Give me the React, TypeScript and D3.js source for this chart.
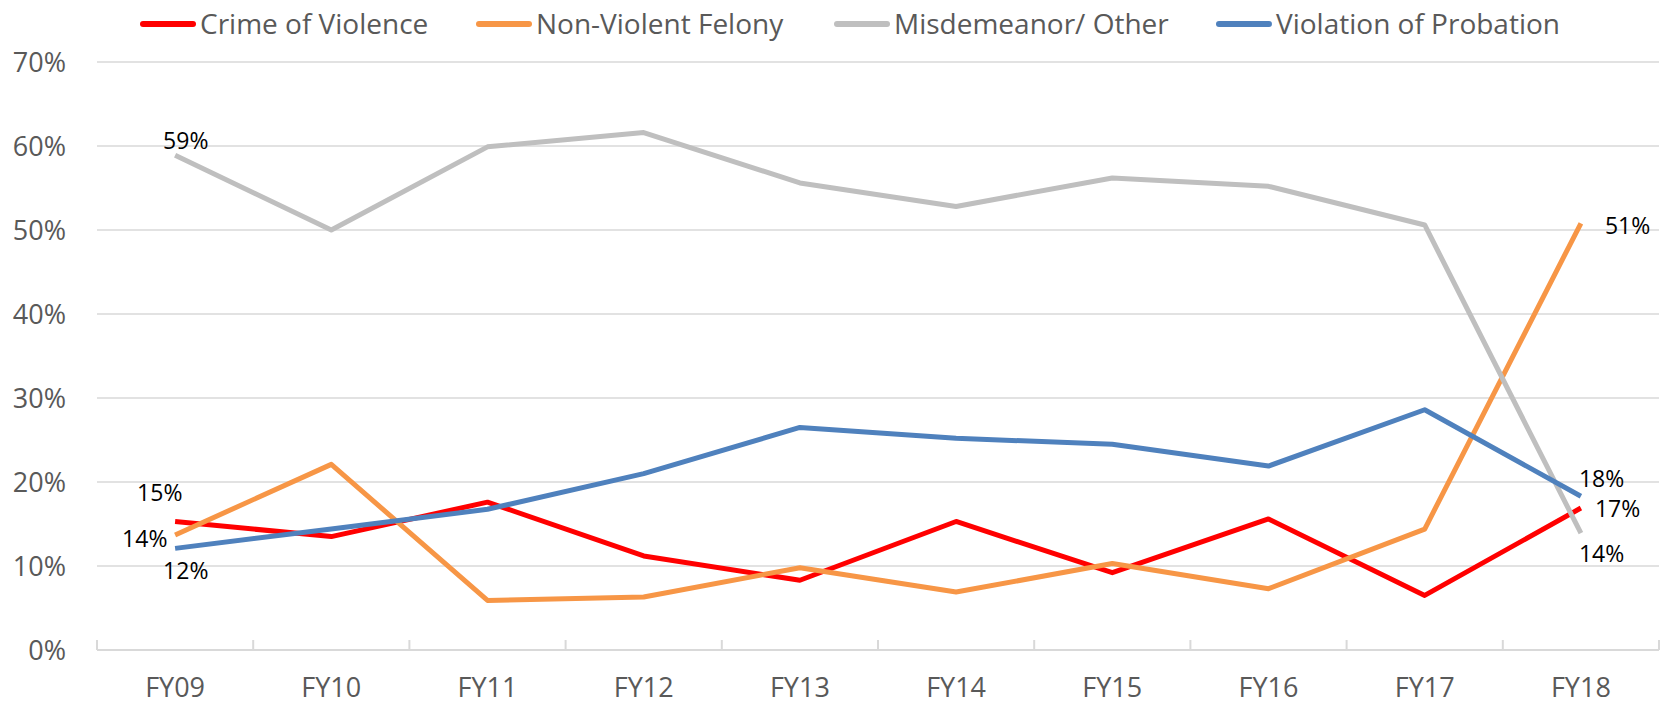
import React from 'react';
import * as d3 from 'd3';

const years = ['FY09', 'FY10', 'FY11', 'FY12', 'FY13', 'FY14', 'FY15', 'FY16', 'FY17', 'FY18'];
const crimeOfViolence = [15.3, 13.5, 17.6, 11.2, 8.3, 15.3, 9.2, 15.6, 6.5, 16.9];
const nonViolentFelony = [13.7, 22.1, 5.9, 6.3, 9.8, 6.9, 10.3, 7.3, 14.4, 50.8];
const misdemeanorOther = [58.9, 50.0, 59.9, 61.6, 55.6, 52.8, 56.2, 55.2, 50.6, 13.9];
const violationOfProbation = [12.1, 14.4, 16.75, 21.0, 26.5, 25.2, 24.5, 21.9, 28.6, 18.3];
const yTicks = [0, 10, 20, 30, 40, 50, 60, 70];

const series = [
  { name: 'Crime of Violence', values: crimeOfViolence, color: '#FF0000' },
  { name: 'Non-Violent Felony', values: nonViolentFelony, color: '#F79646' },
  { name: 'Misdemeanor/ Other', values: misdemeanorOther, color: '#BFBFBF' },
  { name: 'Violation of Probation', values: violationOfProbation, color: '#4F81BD' },
];

// where the first / last point labels sit, relative to the point (series order)
const firstLabelOffsets = [[-38, -20], [-53, 12], [-12, -6], [-12, 31]];
const lastLabelOffsets = [[14, 9], [24, 11], [-2, 29], [-2, -9]];
const legendX = [140, 476, 834, 1216];

const width = 1662;
const height = 704;
const margin = { left: 97, right: 3, top: 62, bottom: 54 };
const font = '"Open Sans", sans-serif';

export default function App() {
  const x = d3
    .scaleBand()
    .domain(years)
    .range([margin.left, width - margin.right]);
  const y = d3
    .scaleLinear()
    .domain([0, 70])
    .range([height - margin.bottom, margin.top]);
  const cx = (d: string) => (x(d) as number) + x.bandwidth() / 2;
  const line = d3
    .line<number>()
    .x((_, i) => cx(years[i]))
    .y(v => y(v));
  const bottom = y(0);
  const boundaries = years.map(d => x(d) as number).concat([width - margin.right]);
  const last = years.length - 1;

  return (
    <svg
      width={width}
      height={height}
      style={{ position: 'absolute', left: 0, top: 0, background: '#fff' }}
      fontFamily={font}
    >
      {/* gridlines */}
      {yTicks.slice(1).map(t => (
        <line key={t} x1={margin.left} x2={width - margin.right} y1={y(t)} y2={y(t)} stroke="#D9D9D9" strokeWidth={1.5} />
      ))}
      {yTicks.map(t => (
        <text key={t} x={66} y={y(t)} dy="0.36em" textAnchor="end" fontSize={27} fill="#595959">
          {t}%
        </text>
      ))}

      {/* category axis */}
      <line x1={margin.left} x2={width - margin.right} y1={bottom} y2={bottom} stroke="#D9D9D9" strokeWidth={2} />
      {boundaries.map((b, i) => (
        <line key={i} x1={b} x2={b} y1={bottom} y2={bottom - 10} stroke="#D9D9D9" strokeWidth={2} />
      ))}
      {years.map(d => (
        <text key={d} x={cx(d)} y={697} textAnchor="middle" fontSize={27} fill="#595959">
          {d}
        </text>
      ))}

      {/* lines */}
      {series.map(s => (
        <path key={s.name} d={line(s.values) as string} fill="none" stroke={s.color} strokeWidth={5} strokeLinejoin="round" />
      ))}

      {/* first and last point labels */}
      {series.map((s, i) => (
        <g key={s.name} fontSize={23} fill="#000">
          <text x={cx(years[0]) + firstLabelOffsets[i][0]} y={y(s.values[0]) + firstLabelOffsets[i][1]}>
            {d3.format('.0f')(s.values[0])}%
          </text>
          <text x={cx(years[last]) + lastLabelOffsets[i][0]} y={y(s.values[last]) + lastLabelOffsets[i][1]}>
            {d3.format('.0f')(s.values[last])}%
          </text>
        </g>
      ))}

      {/* legend */}
      {series.map((s, i) => (
        <g key={s.name} transform={`translate(${legendX[i]}, 24)`}>
          <line x1={3} x2={53} y1={0} y2={0} stroke={s.color} strokeWidth={6} strokeLinecap="round" />
          <text x={60} y={10} fontSize={28} fill="#595959">
            {s.name}
          </text>
        </g>
      ))}
    </svg>
  );
}
